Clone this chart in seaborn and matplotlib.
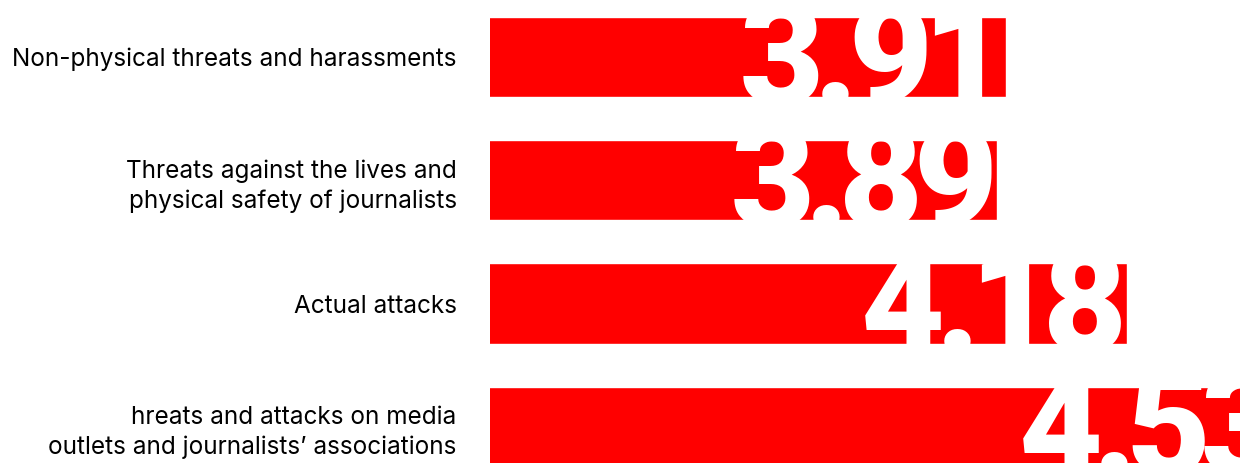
import matplotlib
matplotlib.use("Agg")
import matplotlib.pyplot as plt
from matplotlib.transforms import ScaledTranslation
import seaborn as sns
import pandas as pd

categories = [
    "Non-physical threats and harassments",
    "Threats against the lives and\nphysical safety of journalists",
    "Actual attacks",
    "hreats and attacks on media\noutlets and journalists\u2019 associations",
]
values = [3.91, 3.89, 4.18, 4.53]
value_labels = ["3.91", "3.89", "4.18", "4.53"]

df = pd.DataFrame({"category": categories, "value": values})

sns.set_theme(style="white")
plt.rcParams["font.family"] = ["Inter", "DejaVu Sans"]

DPI = 100
fig = plt.figure(figsize=(12.4, 4.63), dpi=DPI)
ax = fig.add_axes([490 / 1240, 0, 750 / 1240, 1])

sns.barplot(data=df, x="value", y="category", orient="h", color="#ff0000",
            saturation=1, width=0.65, ax=ax)

x_left = 2.761
ax.set_xlim(x_left, x_left + 750 / 449)
ax.set_ylim(3.293, -0.462)

ax.set_xlabel("")
ax.set_ylabel("")
ax.set_xticks([])
ax.tick_params(axis="y", length=0, pad=24, labelsize=17.5, labelcolor="black")
for lbl in ax.get_yticklabels():
    lbl.set_horizontalalignment("right")
    lbl.set_multialignment("right")
    lbl.set_linespacing(1.34)
for s in ax.spines.values():
    s.set_visible(False)

# big value labels, drawn glyph by glyph with tight tracking
renderer = fig.canvas.get_renderer()
num_font = dict(fontweight=900, family=["Roboto", "DejaVu Sans"])


def box_width(ch, size):
    t = ax.text(0, 0, ch, fontsize=size, **num_font)
    w = t.get_window_extent(renderer).width
    t.remove()
    return w


num_size = 100 * 84 / box_width("3", 100)
gap_px = -10

for i, (v, lab) in enumerate(zip(values, value_labels)):
    offset = 0.0
    for ch in reversed(lab):
        tr = ax.transData + ScaledTranslation(-offset / DPI, 0, fig.dpi_scale_trans)
        ax.text(v, i + 0.39, ch, ha="right", va="baseline", color="white",
                fontsize=num_size, transform=tr, clip_on=True, **num_font)
        offset += box_width(ch, num_size) + gap_px

fig.savefig("out.png", dpi=DPI)
